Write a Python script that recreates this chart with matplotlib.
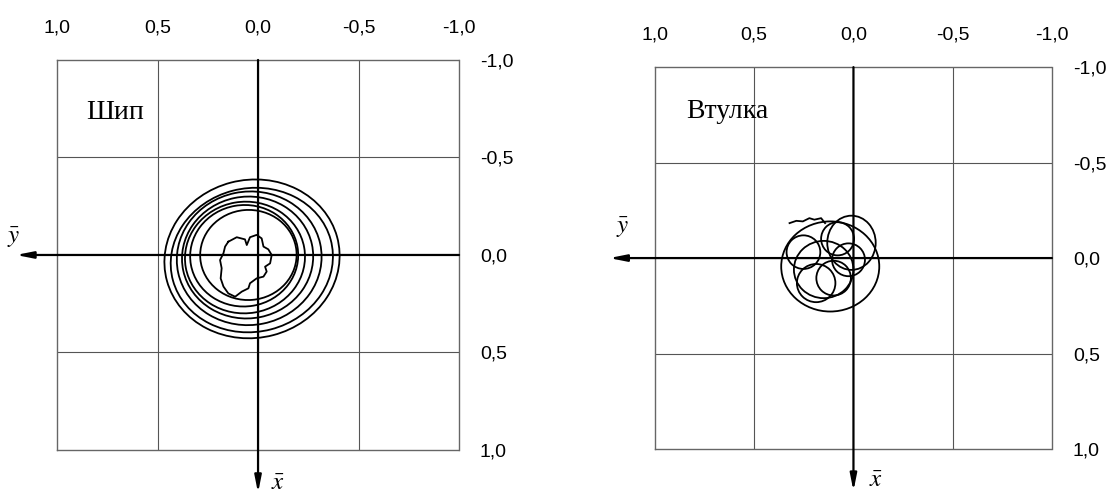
import matplotlib.pyplot as plt
from matplotlib.patches import Ellipse

# --- orbit of the journal ("Шип"): nested loops as ellipses (centre, semi-axes, tilt)
ship_cx = [0.030, 0.031, 0.044, 0.052, 0.065, 0.069, 0.048]
ship_cy = [0.020, 0.026, 0.017, 0.013, 0.013, 0.004, 0.000]
ship_rx = [0.438, 0.406, 0.361, 0.327, 0.299, 0.269, 0.240]
ship_ry = [0.405, 0.368, 0.342, 0.312, 0.286, 0.260, 0.231]
ship_tilt = [15, 15, 12, 12, 10, 10, 5]

# inner lobed curve of the journal orbit
core_x = [0.148, 0.106, 0.065, 0.056, 0.040, 0.007, -0.018, -0.027, -0.051, -0.068,
          -0.060, -0.035, -0.043, -0.027, 0.007, 0.040, 0.048, 0.081, 0.114, 0.148,
          0.172, 0.186, 0.181, 0.189, 0.172, 0.164, 0.148]
core_y = [-0.068, -0.091, -0.080, -0.051, -0.091, -0.103, -0.085, -0.043, -0.029, 0.000,
          0.043, 0.060, 0.085, 0.111, 0.120, 0.145, 0.171, 0.188, 0.214, 0.197,
          0.162, 0.120, 0.068, 0.026, -0.009, -0.043, -0.068]

# --- orbit of the bushing ("Втулка"): loops
bush_cx = [0.252, 0.080, 0.010, 0.117, 0.188, 0.100, 0.025, 0.150]
bush_cy = [-0.031, -0.101, -0.080, 0.044, 0.131, 0.105, 0.009, 0.060]
bush_rx = [0.085, 0.083, 0.122, 0.247, 0.097, 0.087, 0.083, 0.150]
bush_ry = [0.088, 0.087, 0.142, 0.236, 0.100, 0.091, 0.086, 0.150]

# starting segment of the bushing orbit
start_x = [0.322, 0.288, 0.255, 0.222, 0.197, 0.163, 0.143]
start_y = [-0.183, -0.195, -0.192, -0.209, -0.201, -0.209, -0.183]

ticks = [1.0, 0.5, 0.0, -0.5, -1.0]
tick_labels = ["1,0", "0,5", "0,0", "-0,5", "-1,0"]

plt.rcParams['mathtext.fontset'] = 'stix'

fig = plt.figure(figsize=(11.12, 4.94), dpi=100)
ax1 = fig.add_axes([0.0513, 0.0891, 0.3615, 0.7895])
ax2 = fig.add_axes([0.589, 0.0911, 0.357, 0.773])


def setup(ax, title, title_xy, ylab_xy, xlab_xy):
    ax.set_xlim(1, -1)
    ax.set_ylim(1, -1)
    ax.set_xticks(ticks)
    ax.set_xticklabels(tick_labels)
    ax.set_yticks(ticks)
    ax.set_yticklabels(tick_labels)
    ax.xaxis.tick_top()
    ax.yaxis.tick_right()
    ax.tick_params(axis='x', length=0, pad=17, labelsize=14)
    ax.tick_params(axis='y', length=0, pad=15, labelsize=14)
    for lab in ax.get_xticklabels() + ax.get_yticklabels():
        lab.set_fontfamily('Liberation Sans')
    for s in ax.spines.values():
        s.set_linestyle((0, (1, 1)))
        s.set_color('#666666')
        s.set_linewidth(1.0)
    # grid at +-0.5
    for v in (0.5, -0.5):
        ax.axvline(v, color='#555555', lw=0.8, zorder=1)
        ax.axhline(v, color='#555555', lw=0.8, zorder=1)
    # coordinate axes with arrows
    ax.annotate("", xy=(ylab_xy[2], 0), xytext=(-1, 0),
                arrowprops=dict(arrowstyle='-|>,head_length=1.0,head_width=0.2',
                                color='black', lw=1.6, shrinkA=0, shrinkB=0),
                annotation_clip=False, zorder=3)
    ax.annotate("", xy=(0, xlab_xy[2]), xytext=(0, -1),
                arrowprops=dict(arrowstyle='-|>,head_length=1.0,head_width=0.2',
                                color='black', lw=1.6, shrinkA=0, shrinkB=0),
                annotation_clip=False, zorder=3)
    ax.text(ylab_xy[0], ylab_xy[1], r'$\bar{y}$', fontsize=18, ha='center',
            va='center', clip_on=False)
    ax.text(xlab_xy[0], xlab_xy[1], r'$\bar{x}$', fontsize=18, ha='center',
            va='center', clip_on=False)
    ax.text(title_xy[0], title_xy[1], title, fontsize=20, family='Liberation Serif',
            ha='left', va='center')


setup(ax1, "Шип", (0.856, -0.73), (1.214, -0.09, 1.204), (-0.10, 1.17, 1.22))
setup(ax2, "Втулка", (0.845, -0.77), (1.165, -0.16, 1.23), (-0.115, 1.16, 1.22))

for cx, cy, rx, ry, a in zip(ship_cx, ship_cy, ship_rx, ship_ry, ship_tilt):
    ax1.add_patch(Ellipse((cx, cy), 2 * rx, 2 * ry, angle=a, fill=False,
                          ec='black', lw=1.3, zorder=4))
ax1.plot(core_x, core_y, color='black', lw=1.3, zorder=4)

for cx, cy, rx, ry in zip(bush_cx, bush_cy, bush_rx, bush_ry):
    ax2.add_patch(Ellipse((cx, cy), 2 * rx, 2 * ry, fill=False,
                          ec='black', lw=1.3, zorder=4))
ax2.plot(start_x, start_y, color='black', lw=1.3, zorder=4)

fig.savefig("out.png", dpi=100)
